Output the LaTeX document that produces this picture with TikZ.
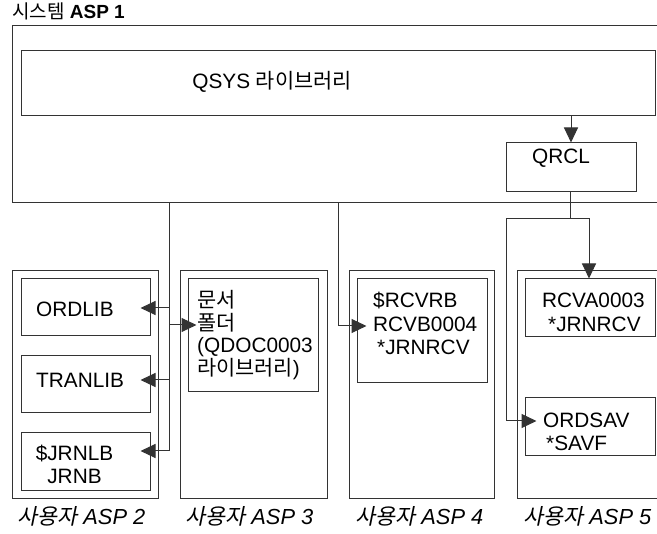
\documentclass[tikz,border=0pt]{standalone}
\usepackage{fontspec}
\setmainfont{Liberation Sans}
\newfontfamily\kor{Noto Sans CJK KR}
\newfontfamily\korit[FakeSlant=0.2]{Noto Sans CJK KR}
\usetikzlibrary{arrows.meta,positioning}

\begin{document}
\begin{tikzpicture}[x=1pt, y=-1pt,
  box/.style={draw=black!80, line width=1pt, inner sep=0pt},
  wire/.style={draw=black!80, line width=1pt},
  arr/.style={wire, arrows={-Triangle[length=15pt,width=14pt]}},
  txt/.style={inner sep=0pt, align=left, font=\fontsize{20.8}{23}\selectfont},
  asplabel/.style={inner sep=0pt, anchor=base west, font=\fontsize{21.8}{24}\selectfont\itshape}]
\useasboundingbox (0,0) rectangle (657,534);
% system ASP
\node[inner sep=0pt, anchor=base west, font=\fontsize{19}{22}\selectfont] (title) at (12,19) {{\kor 시스템} \textbf{ASP 1}};
\node[box, minimum width=658pt, minimum height=177pt] (sysasp) at (341,114.5) {};
\node[box, minimum width=634pt, minimum height=65pt] (qsys) at (338,83.5) {};
\node[box, minimum width=130pt, minimum height=49pt] (qrcl) at (571,167.5) {};
\node[txt, anchor=center] (qsystext) at (272,82) {QSYS {\kor 라이브러리}};
\node[txt, anchor=base west] (qrcltext) at (532,164) {QRCL};
% user ASPs
\node[box, minimum width=146pt, minimum height=228pt] (asp2) at (85,385) {};
\node[box, minimum width=147pt, minimum height=228pt] (asp3) at (253.5,385) {};
\node[box, minimum width=145pt, minimum height=228pt] (asp4) at (421.5,385) {};
\node[box, minimum width=163pt, minimum height=228pt] (asp5) at (598.5,385) {};
\node[box, minimum width=129pt, minimum height=57pt] (ordlib) at (85.5,307.5) {};
\node[box, minimum width=129pt, minimum height=57pt] (tranlib) at (85.5,384.5) {};
\node[box, minimum width=129pt, minimum height=58pt] (jrnlb) at (85.5,462) {};
\node[box, minimum width=130pt, minimum height=113pt] (qdoc) at (253,335.5) {};
\node[box, minimum width=130pt, minimum height=104pt] (rcvrb) at (422,331) {};
\node[box, minimum width=130pt, minimum height=58pt] (rcva) at (590,308) {};
\node[box, minimum width=130pt, minimum height=58pt] (ordsav) at (590,427) {};
\node[txt, anchor=base west] (ordlibtext) at (36,317) {ORDLIB};
\node[txt, anchor=base west] (tranlibtext) at (36,388) {TRANLIB};
\node[txt, anchor=north, align=center] (jrnlbtext) at (74.5,444.5) {\$JRNLB\\JRNB};
\node[txt, anchor=north west, font=\fontsize{20.8}{22.7}\selectfont] (qdoctext) at (197,290) {{\kor 문서}\\{\kor 폴더}\\(QDOC0003\\{\kor 라이브러리})};
\node[txt, anchor=north west, font=\fontsize{20.8}{23.5}\selectfont] (rcvrbtext) at (373,292) {\$RCVRB\\RCVB0004\\\hspace*{4pt}*JRNRCV};
\node[txt, anchor=north west, font=\fontsize{20.8}{24}\selectfont] (rcvatext) at (542,293) {RCVA0003\\\hspace*{6pt}*JRNRCV};
\node[txt, anchor=north west] (ordsavtext) at (543,413) {ORDSAV\\\hspace*{3pt}*SAVF};
\foreach \x/\n in {17/2,185/3,355/4,523/5}
  \node[asplabel] (lab\n) at (\x,525) {{\korit 사용자} ASP \n};
% connectors
\coordinate (ja) at (169,308);
\coordinate (jb) at (169,325);
\coordinate (jc) at (169,380);
\coordinate (jd) at (169,451);
\coordinate (ka) at (338,326);
\coordinate (qa) at (570,219);
\coordinate (qb) at (506,219);
\coordinate (qc) at (589,219);
\coordinate (qd) at (506,421);
\draw[arr] (qrcl.north |- qsys.south) -- (qrcl.north);
\draw[wire] (sysasp.south -| ja) -- (jd);
\draw[arr, shorten >=-10pt] (ja) -- (ordlib.east |- ja);
\draw[arr, shorten >=-9pt] (jb) -- (qdoc.west |- jb);
\draw[arr, shorten >=-10pt] (jc) -- (tranlib.east |- jc);
\draw[arr, shorten >=-10pt] (jd) -- (jrnlb.east |- jd);
\draw[arr, shorten >=-10pt] (sysasp.south -| ka) -- (ka) -- (rcvrb.west |- ka);
\draw[wire] (qrcl.south -| qa) -- (qa);
\draw[arr] (qa) -- (qc) -- (rcva.north -| qc);
\draw[arr, shorten >=-12pt] (qa) -- (qb) -- (qd) -- (ordsav.west |- qd);
\end{tikzpicture}
\end{document}
